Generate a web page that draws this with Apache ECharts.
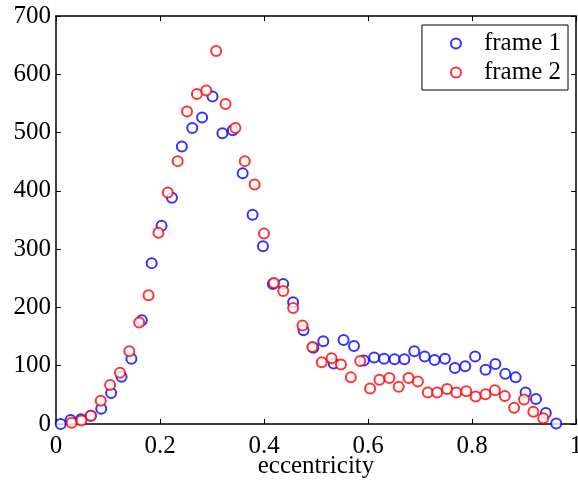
<!DOCTYPE html>
<html>
<head>
<meta charset="utf-8">
<style>
  html, body { margin: 0; padding: 0; background: #fff; }
  #chart { width: 578px; height: 485px; }
</style>
<script src="https://cdn.jsdelivr.net/npm/echarts@6/dist/echarts.min.js"></script>
</head>
<body>
<div id="chart"></div>
<script>
// Eccentricity histograms for two frames (bin centre, count)
const frame1Ecc = [0.009, 0.028, 0.048, 0.067, 0.087, 0.106, 0.126, 0.145, 0.165, 0.184,
                   0.203, 0.223, 0.242, 0.262, 0.281, 0.301, 0.320, 0.340, 0.359, 0.378,
                   0.398, 0.417, 0.437, 0.456, 0.476, 0.495, 0.514, 0.534, 0.553, 0.573,
                   0.592, 0.612, 0.631, 0.651, 0.670, 0.689, 0.709, 0.728, 0.748, 0.767,
                   0.787, 0.806, 0.826, 0.845, 0.864, 0.884, 0.903, 0.923, 0.942, 0.962];
const frame1Count = [0, 7, 8, 14, 26, 53, 81, 112, 178, 276,
                     340, 388, 476, 508, 526, 562, 499, 504, 430, 359,
                     305, 240, 240, 209, 161, 131, 142, 104, 144, 134,
                     109, 114, 112, 111, 111, 125, 116, 110, 112, 96,
                     99, 116, 93, 103, 86, 80, 54, 43, 19, 1];

const frame2Ecc = [0.030, 0.049, 0.067, 0.086, 0.104, 0.123, 0.141, 0.160, 0.178, 0.197,
                   0.215, 0.234, 0.252, 0.271, 0.289, 0.308, 0.326, 0.345, 0.363, 0.382,
                   0.400, 0.419, 0.437, 0.456, 0.474, 0.493, 0.511, 0.530, 0.548, 0.567,
                   0.585, 0.604, 0.622, 0.641, 0.659, 0.678, 0.696, 0.715, 0.733, 0.752,
                   0.770, 0.789, 0.807, 0.826, 0.844, 0.863, 0.881, 0.900, 0.918, 0.937];
const frame2Count = [2, 6, 14, 40, 67, 88, 125, 174, 221, 328,
                     397, 451, 536, 566, 572, 640, 549, 508, 451, 411,
                     327, 242, 228, 199, 169, 132, 106, 113, 102, 80,
                     108, 61, 76, 79, 64, 79, 73, 54, 54, 60,
                     54, 56, 47, 51, 58, 48, 28, 42, 21, 10];

const seriesNames = ['frame 1', 'frame 2'];
const xTicks = [0, 0.2, 0.4, 0.6, 0.8, 1];
const yTicks = [0, 100, 200, 300, 400, 500, 600, 700];
const xTitle = 'eccentricity';

const pairs = (xs, ys) => xs.map((x, i) => [x, ys[i]]);

const serif = 'Liberation Serif, Times New Roman, serif';
const labelStyle = { color: '#000', fontFamily: serif, fontSize: 25 };

const xBase = {
  type: 'value', min: xTicks[0], max: xTicks[xTicks.length - 1],
  interval: xTicks[1] - xTicks[0],
  axisLine: { show: true, onZero: false, lineStyle: { color: '#000', width: 1.5 } },
  axisTick: { show: true, inside: true, length: 5, lineStyle: { color: '#000', width: 1 } },
  splitLine: { show: false }
};
const yBase = {
  type: 'value', min: yTicks[0], max: yTicks[yTicks.length - 1],
  interval: yTicks[1] - yTicks[0],
  axisLine: { show: true, onZero: false, lineStyle: { color: '#000', width: 1.5 } },
  axisTick: { show: true, inside: true, length: 5, lineStyle: { color: '#000', width: 1 } },
  splitLine: { show: false }
};

const chart = echarts.init(document.getElementById('chart'), null, { renderer: 'canvas' });
chart.setOption({
  backgroundColor: '#fff',
  animation: false,
  grid: { left: 56, right: 2, top: 16, bottom: 61, containLabel: false, outerBoundsMode: 'none' },
  xAxis: [
    Object.assign({}, xBase, {
      position: 'bottom',
      axisLabel: Object.assign({ margin: 10 }, labelStyle),
      name: xTitle, nameLocation: 'middle', nameGap: 30, nameMoveOverlap: false,
      nameTextStyle: labelStyle
    }),
    Object.assign({}, xBase, { position: 'top', axisLabel: { show: false } })
  ],
  yAxis: [
    Object.assign({}, yBase, {
      position: 'left',
      axisLabel: Object.assign({ margin: 5 }, labelStyle)
    }),
    Object.assign({}, yBase, { position: 'right', axisLabel: { show: false } })
  ],
  legend: {
    orient: 'vertical',
    right: 10, top: 25,
    data: seriesNames,
    backgroundColor: '#fff',
    borderColor: '#000', borderWidth: 1,
    padding: [6, 7, 5, 28],
    itemWidth: 46, itemHeight: 10, itemGap: 4,
    textStyle: { color: '#000', fontFamily: serif, fontSize: 25, lineHeight: 25 }
  },
  series: [
    {
      name: seriesNames[0], type: 'scatter',
      symbol: 'emptyCircle', symbolSize: 10,
      itemStyle: { color: '#0000ff', borderColor: '#0000ff', borderWidth: 1 },
      data: pairs(frame1Ecc, frame1Count)
    },
    {
      name: seriesNames[1], type: 'scatter',
      symbol: 'emptyCircle', symbolSize: 10,
      itemStyle: { color: '#ff0000', borderColor: '#ff0000', borderWidth: 1 },
      data: pairs(frame2Ecc, frame2Count)
    }
  ]
});
</script>
</body>
</html>
